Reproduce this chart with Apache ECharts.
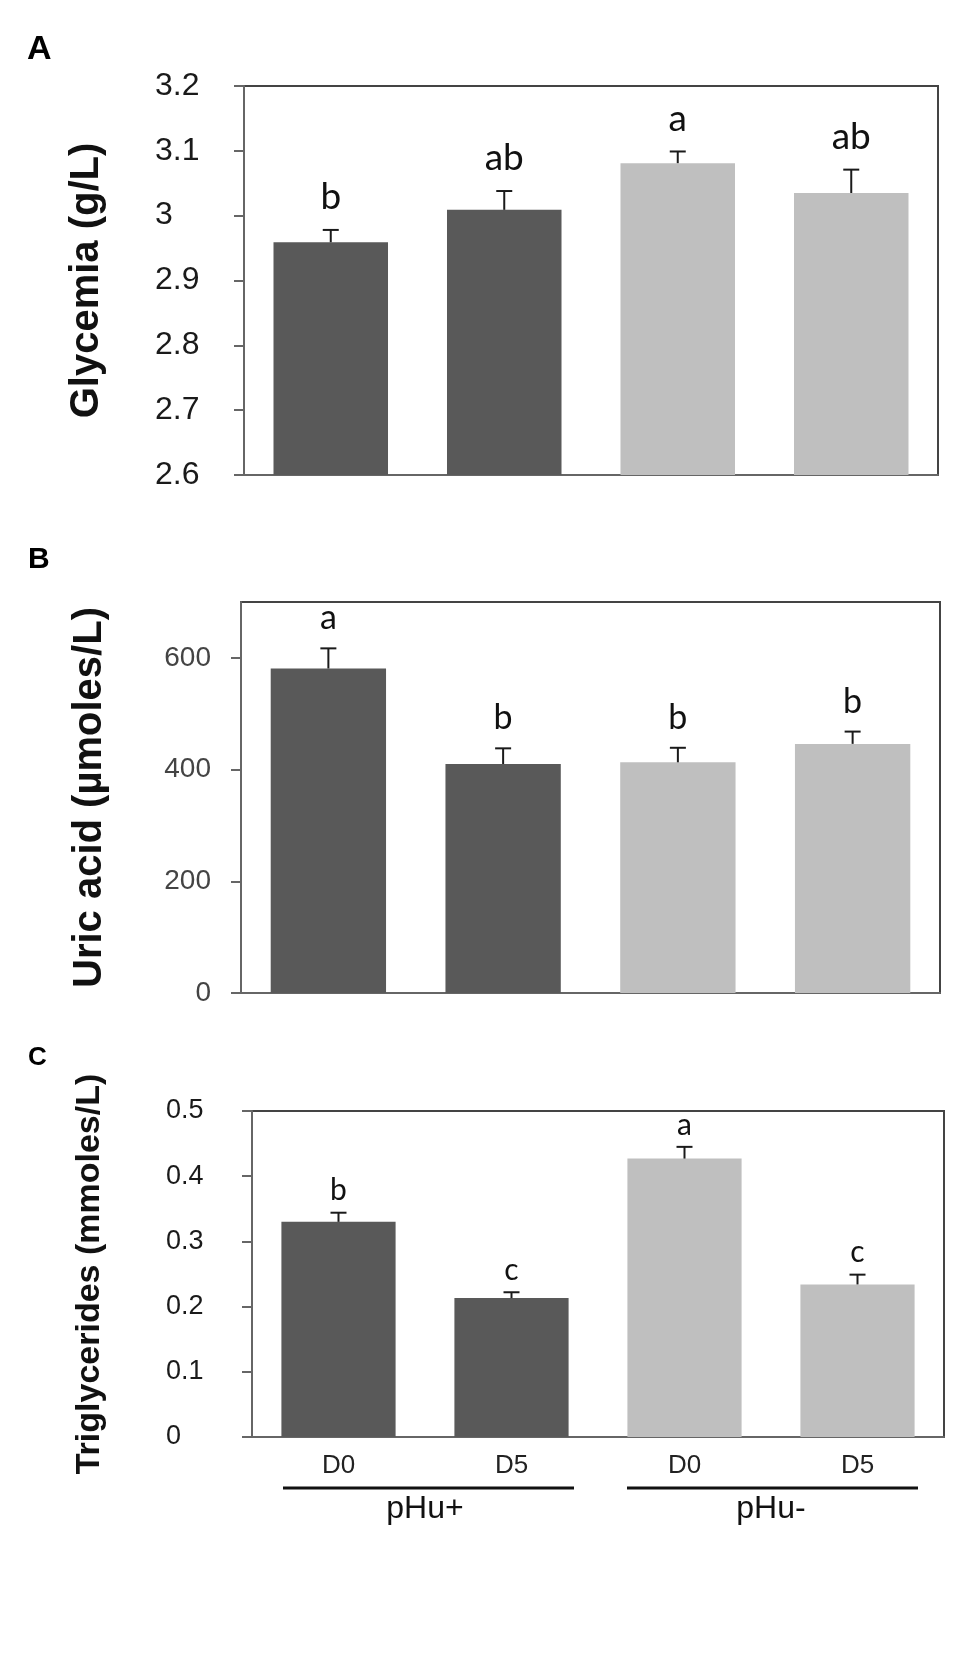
<!DOCTYPE html>
<html>
<head>
<meta charset="utf-8">
<script src="https://cdn.jsdelivr.net/npm/echarts/dist/echarts.min.js"></script>
<style>
  html, body { margin: 0; padding: 0; background: #fff; }
  #chart { width: 975px; height: 1654px; }
</style>
</head>
<body>
<div id="chart"></div>
<script>
// data
var categories = ['D0', 'D5', 'D0', 'D5'];
var groups = ['pHu+', 'pHu-'];

var glyValues = [2.959, 3.009, 3.081, 3.035];
var glyErrors = [0.019, 0.029, 0.018, 0.036];
var glyLetters = ['b', 'ab', 'a', 'ab'];

var uricValues = [581, 410, 413, 446];
var uricErrors = [36, 28, 26, 22];
var uricLetters = ['a', 'b', 'b', 'b'];
var uricTicks = [0, 200, 400, 600];

var trigValues = [0.330, 0.213, 0.427, 0.234];
var trigErrors = [0.014, 0.009, 0.018, 0.015];
var trigLetters = ['b', 'c', 'a', 'c'];

var DARK = '#595959';
var LIGHT = '#bfbfbf';

function barColor(p) {
    return p.dataIndex < 2 ? DARK : LIGHT;
}

// error bar + significance letter
function errSeries(idx, values, errors, letters, fontSize, gap) {
    return {
        type: 'custom',
        xAxisIndex: idx,
        yAxisIndex: idx,
        z: 5,
        data: values.map(function (v, i) { return [i, v, errors[i]]; }),
        renderItem: function (params, api) {
            var x = api.value(0), v = api.value(1), e = api.value(2);
            var base = api.coord([x, v]);
            var top = api.coord([x, v + e]);
            var st = { stroke: '#1a1a1a', lineWidth: 2 };
            return {
                type: 'group',
                children: [
                    { type: 'line', shape: { x1: base[0], y1: base[1], x2: top[0], y2: top[1] }, style: st },
                    { type: 'line', shape: { x1: top[0] - 8, y1: top[1], x2: top[0] + 8, y2: top[1] }, style: st },
                    {
                        type: 'text', x: top[0], y: top[1] - gap,
                        style: {
                            text: letters[params.dataIndex],
                            fontSize: fontSize, fontFamily: 'Lato',
                            fill: '#111', align: 'center', verticalAlign: 'bottom'
                        }
                    }
                ]
            };
        }
    };
}

function barSeries(idx, values) {
    return {
        type: 'bar',
        xAxisIndex: idx,
        yAxisIndex: idx,
        barCategoryGap: '34%',
        data: values,
        itemStyle: { color: barColor }
    };
}

function yAxis(idx, min, max, interval, name, opts) {
    var ax = {
        type: 'value',
        gridIndex: idx,
        min: min, max: max, interval: interval,
        name: name,
        nameLocation: 'middle',
        nameRotate: 90,
        nameGap: opts.nameGap,
        nameTextStyle: { fontSize: opts.nameSize, fontWeight: 'bold', fontFamily: 'Liberation Sans', color: '#111' },
        splitLine: { show: false },
        axisLine: { show: true, lineStyle: { color: '#666', width: 2 } },
        axisTick: { show: true, inside: false, length: 10, lineStyle: { color: '#666', width: 2 } },
        axisLabel: {
            fontSize: opts.labelSize, fontFamily: 'Liberation Sans', color: opts.labelColor,
            margin: opts.margin, align: opts.align,
            formatter: function (v) { return String(+(+v).toFixed(2)); }
        }
    };
    if (opts.ticks) {
        ax.axisTick.customValues = opts.ticks;
        ax.axisLabel.customValues = opts.ticks;
    }
    return ax;
}

function xAxis(idx, showLabels) {
    return {
        type: 'category',
        gridIndex: idx,
        data: categories,
        axisLine: { show: true, lineStyle: { color: '#666', width: 2 } },
        axisTick: { show: false },
        axisLabel: { show: showLabels, fontSize: 26, fontFamily: 'Liberation Sans', color: '#222', margin: 16 }
    };
}

var gridStyle = { show: true, borderColor: '#444', borderWidth: 2, backgroundColor: 'transparent' };

var chart = echarts.init(document.getElementById('chart'));

var option = {
    backgroundColor: '#fff',
    animation: false,
    grid: [
        Object.assign({ left: 244, right: 37, top: 86, height: 389 }, gridStyle),
        Object.assign({ left: 241, right: 35, top: 602, height: 391 }, gridStyle),
        Object.assign({ left: 252, right: 31, top: 1111, height: 326 }, gridStyle)
    ],
    xAxis: [
        xAxis(0, false),
        xAxis(1, false),
        xAxis(2, true),
        {
            type: 'category',
            gridIndex: 2,
            position: 'bottom',
            data: groups,
            axisLine: { show: false },
            axisTick: { show: false },
            axisLabel: { fontSize: 32, fontFamily: 'Liberation Sans', color: '#111', margin: 56 }
        }
    ],
    yAxis: [
        yAxis(0, 2.6, 3.2, 0.1, 'Glycemia (g/L)',
            { nameGap: 137, nameSize: 40, labelSize: 32, labelColor: '#1a1a1a', margin: 89, align: 'left' }),
        yAxis(1, 0, 700, 200, 'Uric acid (µmoles/L)',
            { nameGap: 131, nameSize: 40, labelSize: 28, labelColor: '#444', margin: 30, align: 'right', ticks: uricTicks }),
        yAxis(2, 0, 0.5, 0.1, 'Triglycerides (mmoles/L)',
            { nameGap: 145, nameSize: 34, labelSize: 27, labelColor: '#1a1a1a', margin: 86, align: 'left' })
    ],
    series: [
        barSeries(0, glyValues),
        barSeries(1, uricValues),
        barSeries(2, trigValues),
        errSeries(0, glyValues, glyErrors, glyLetters, 37, 14),
        errSeries(1, uricValues, uricErrors, uricLetters, 34, 13),
        errSeries(2, trigValues, trigErrors, trigLetters, 30, 7)
    ],
    graphic: [
        { type: 'text', left: 27, top: 33, style: { text: 'A', fontSize: 34, fontWeight: 'bold', fontFamily: 'Liberation Sans', fill: '#000' } },
        { type: 'text', left: 28, top: 545, style: { text: 'B', fontSize: 30, fontWeight: 'bold', fontFamily: 'Liberation Sans', fill: '#000' } },
        { type: 'text', left: 28, top: 1045, style: { text: 'C', fontSize: 26, fontWeight: 'bold', fontFamily: 'Liberation Sans', fill: '#000' } },
        { type: 'line', shape: { x1: 283, y1: 1488, x2: 574, y2: 1488 }, style: { stroke: '#111', lineWidth: 3 } },
        { type: 'line', shape: { x1: 627, y1: 1488, x2: 918, y2: 1488 }, style: { stroke: '#111', lineWidth: 3 } }
    ]
};

chart.setOption(option);
window.addEventListener('resize', chart.resize);
</script>
</body>
</html>
